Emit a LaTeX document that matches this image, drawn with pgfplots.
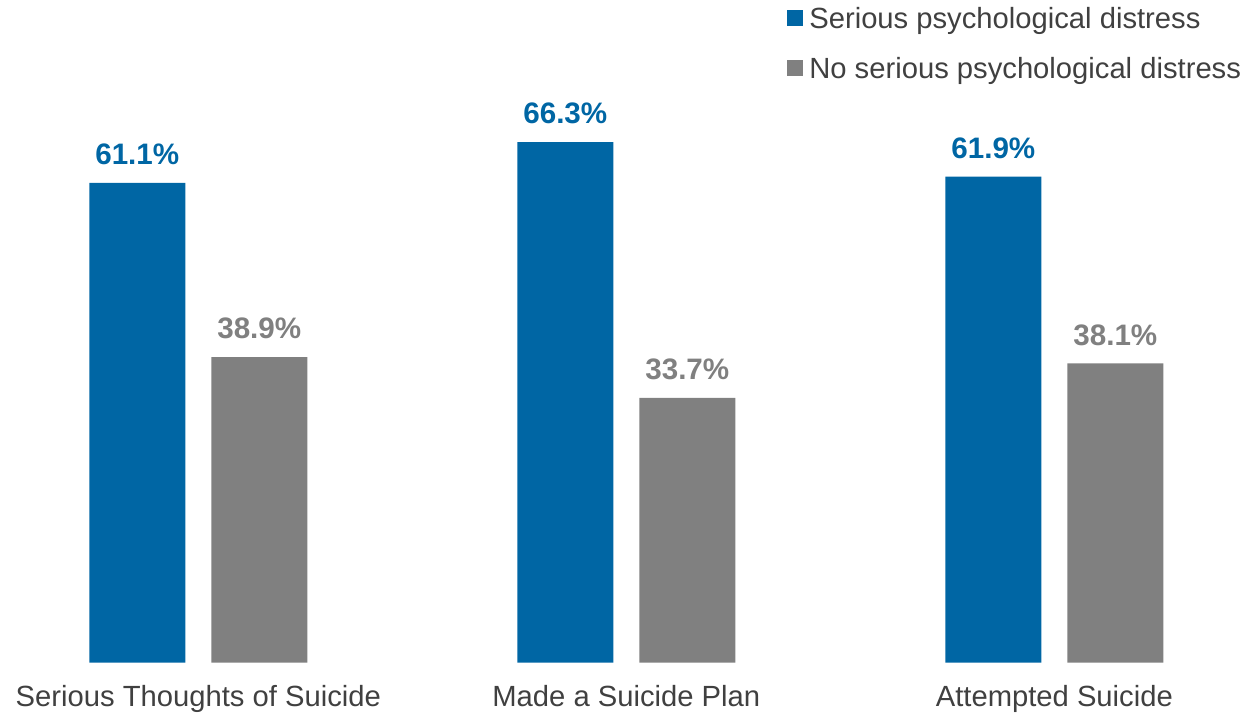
\documentclass[border=0pt]{standalone}
\usepackage{pgfplots}
\pgfplotsset{compat=1.18}
\usepackage{fontspec}
\setmainfont{Liberation Sans}
\definecolor{blueC}{RGB}{0,102,164}
\definecolor{grayC}{RGB}{128,128,128}
\definecolor{txtC}{RGB}{64,64,64}
\begin{document}
\begin{tikzpicture}
\begin{axis}[
  scale only axis, width=623.5pt, height=357pt,
  xmin=-0.4633, xmax=2.4502, ymin=-6.587, ymax=84.38,
  ybar, bar width=48pt,
  axis line style={draw=none}, major tick length=0pt,
  ytick=\empty, xtick={0,1,2},
  xticklabels={Serious Thoughts of Suicide, Made a Suicide Plan, Attempted Suicide},
  xticklabel style={font=\fontsize{14.6}{17}\selectfont, text=txtC, anchor=north, inner sep=0pt, yshift=14.5pt},
  nodes near coords={\pgfmathprintnumber[assume math mode=true,fixed,precision=1,fixed zerofill]{\pgfplotspointmeta}\%},
  every node near coord/.append style={font=\fontsize{14.8}{17}\selectfont\bfseries, anchor=south, inner sep=0pt, yshift=8.8pt},
  legend cell align=left,
  legend image code/.code={\fill[#1] (0pt,-2.3pt) rectangle (8pt,5.7pt);},
  legend style={at={(axis cs:1.3748,83.42)}, anchor=north west, draw=none, fill=none, inner sep=0pt, outer sep=0pt,
    row sep=11.7pt, column sep=3.3pt, font=\fontsize{14.6}{17}\selectfont,
    nodes={inner sep=0pt, text height=10.4pt, text depth=3.1pt, text=txtC}},
  clip=false,
]
\addplot[fill=blueC, draw=none, bar shift=-30.5pt, every node near coord/.append style={text=blueC}]
  coordinates {(0,61.1) (1,66.3) (2,61.9)};
\addlegendentry{Serious psychological distress}
\addplot[fill=grayC, draw=none, bar shift=30.5pt, every node near coord/.append style={text=grayC}]
  coordinates {(0,38.9) (1,33.7) (2,38.1)};
\addlegendentry{No serious psychological distress}
\end{axis}
\end{tikzpicture}
\end{document}
